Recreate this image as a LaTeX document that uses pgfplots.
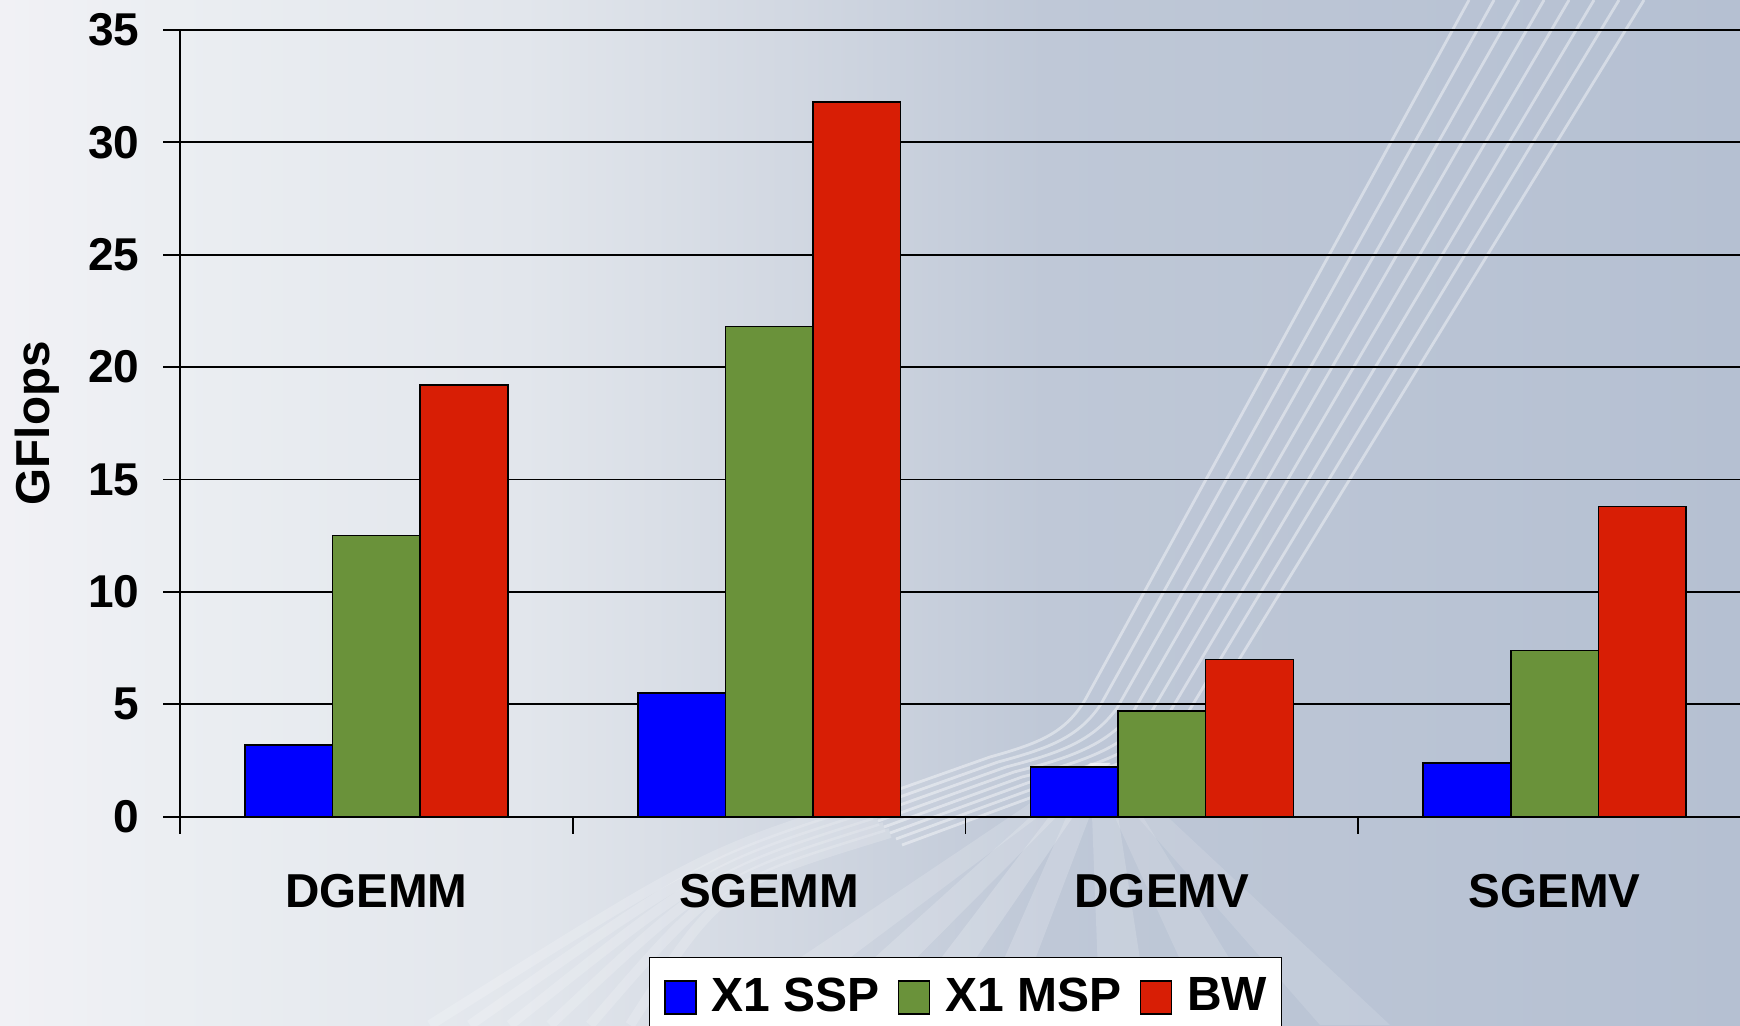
\documentclass[border=0pt]{standalone}
\usepackage{fontspec}
\setmainfont{Liberation Sans}
\usepackage{pgfplots}
\pgfplotsset{compat=1.18}

% series colours
\definecolor{sspblue}{RGB}{0,0,255}
\definecolor{mspgreen}{RGB}{106,146,58}
\definecolor{bwred}{RGB}{216,30,5}

% slide background
\definecolor{bgA}{RGB}{241,241,245}
\definecolor{bgB}{RGB}{235,238,242}
\definecolor{bgC}{RGB}{226,230,236}
\definecolor{bgD}{RGB}{210,216,226}
\definecolor{bgE}{RGB}{191,200,215}
\definecolor{bgF}{RGB}{181,192,210}
\pgfdeclarehorizontalshading{slidebg}{100bp}{%
  color(0bp)=(bgA); color(25bp)=(bgA); color(30bp)=(bgB);
  color(40bp)=(bgC); color(47.5bp)=(bgD); color(55bp)=(bgE);
  color(75bp)=(bgF); color(100bp)=(bgF)}

\begin{document}
\begin{tikzpicture}
\useasboundingbox (0,0) rectangle (435pt,256.25pt);
\shade[shading=slidebg] (0,0) rectangle (435pt,256.25pt);

% decorative light streaks of the slide template
\begin{scope}[x=0.25pt,y=0.25pt]
  \foreach \i in {0,...,7} {
    \draw[white, opacity=0.42, line width=0.7pt]
      ({1469+25*\i},1025) -- ({1085+16*\i},{325-4*\i})
      .. controls ({1065+14*\i},{292-4*\i}) and ({1040+10*\i},{282-5*\i}) ..
      ({990+8*\i},{268-5*\i}) -- ({860+6*\i},{222-6*\i});
  }
  \foreach \i in {0,...,5} {
    \draw[white, opacity=0.18, line width=2.5pt]
      ({860+6*\i},{222-6*\i}) .. controls ({700+4*\i},{170-6*\i}) .. ({430+40*\i},{0});
  }
  \foreach \a/\b/\w in {700/760/0.16, 800/850/0.18, 890/930/0.2, 975/1010/0.18,
                        1100/1150/0.16, 1210/1270/0.14, 1320/1390/0.12} {
    \fill[white, opacity=\w]
      (1090,262) -- (1110,262) -- (\b,0) -- (\a,0) -- cycle;
  }
\end{scope}

\begin{axis}[
  at={(45pt,52.08pt)}, anchor=south west,
  scale only axis,
  width=392.75pt, height=196.7pt,
  ybar=0pt, bar width=21.9pt,
  xmin=-0.5, xmax=3.5,
  ymin=0, ymax=35,
  xtick={0,1,2,3},
  xticklabels={DGEMM,SGEMM,DGEMV,SGEMV},
  minor xtick={-0.5,0.5,1.5,2.5},
  ytick={0,5,...,35},
  axis x line*=bottom, axis y line*=left,
  axis line style={black, line width=0.5pt},
  tick align=outside,
  major tick length=4.25pt, minor tick length=4.25pt,
  major x tick style={draw=none},
  minor x tick style={black, line width=0.45pt},
  major y tick style={black, line width=0.45pt},
  ymajorgrids,
  grid style={black, line width=0.45pt},
  /pgf/number format/assume math mode=true,
  yticklabel style={font=\fontsize{11.5}{13}\selectfont\bfseries,
                    anchor=east, inner sep=0pt, xshift=-5.75pt},
  xticklabel style={font=\fontsize{11.9}{13}\selectfont\bfseries,
                    anchor=north, inner sep=0pt, yshift=-10pt},
  ylabel={GFlops},
  ylabel style={font=\fontsize{11.9}{13}\selectfont\bfseries,
                at={(axis description cs:-0.0912,0.5)}, anchor=center},
  legend columns=3,
  legend style={
    at={(axis description cs:0.5,0)}, anchor=north, yshift=-35pt,
    draw=black, fill=white, line width=0.45pt,
    inner xsep=3.6pt, inner ysep=5pt,
    font=\fontsize{12}{13}\selectfont\bfseries,
    nodes={inner sep=0pt, anchor=west},
    /tikz/every odd column/.append style={column sep=3.7pt},
    /tikz/every even column/.append style={column sep=4.6pt},
  },
  legend image code/.code={%
    \draw[#1, draw=black, line width=0.4pt] (0pt,-4.15pt) rectangle (7.75pt,4.15pt);},
  every axis plot/.append style={draw=black, line width=0.4pt},
]
\addplot[fill=sspblue]  coordinates {(0,3.2) (1,5.5) (2,2.2) (3,2.4)};
\addplot[fill=mspgreen] coordinates {(0,12.5) (1,21.8) (2,4.7) (3,7.4)};
\addplot[fill=bwred]    coordinates {(0,19.2) (1,31.8) (2,7.0) (3,13.8)};
\legend{X1 SSP, X1 MSP, BW}
\end{axis}
\end{tikzpicture}
\end{document}
